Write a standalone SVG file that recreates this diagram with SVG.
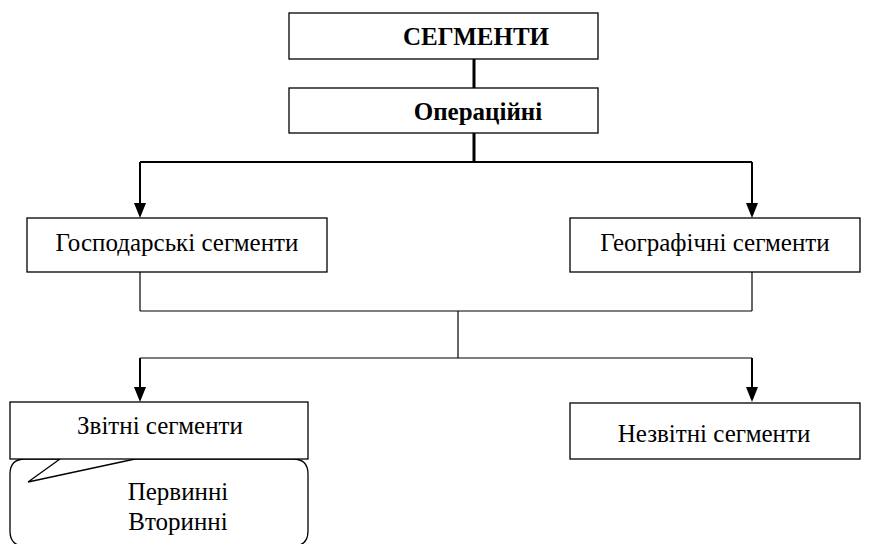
<svg xmlns="http://www.w3.org/2000/svg" width="875" height="544" viewBox="0 0 875 544">
  <style>
    .box { fill: #fff; stroke: #000; stroke-width: 1.3; }
    .txt { font-family: "Liberation Serif", "Times New Roman", serif; font-size: 25px; fill: #000; text-anchor: middle; }
    .bold { font-weight: bold; }
    .thick { stroke: #000; stroke-width: 3; fill: none; }
    .mid { stroke: #000; stroke-width: 2; fill: none; }
    .thin { stroke: #000; stroke-width: 1.2; fill: none; }
    .head { fill: #000; }
  </style>

  <!-- connectors -->
  <g id="connectors">
    <line class="thick" x1="474" y1="59" x2="474" y2="88"/>
    <line class="thick" x1="474" y1="133" x2="474" y2="162"/>
    <line class="mid" x1="140" y1="162" x2="752" y2="162"/>
    <path class="mid" d="M140,162 V204"/>
    <path class="head" d="M134,203 L146,203 L140,218 Z"/>
    <path class="mid" d="M752,162 V204"/>
    <path class="head" d="M746,203 L758,203 L752,218 Z"/>

    <line class="thin" x1="140" y1="272" x2="140" y2="311"/>
    <line class="thin" x1="752" y1="272" x2="752" y2="311"/>
    <line class="thin" x1="140" y1="311" x2="752" y2="311"/>
    <line class="thin" x1="458" y1="311" x2="458" y2="358"/>
    <line class="thin" x1="140" y1="358" x2="752" y2="358"/>
    <path class="mid" d="M140,358 V389"/>
    <path class="head" d="M134,387 L146,387 L140,402 Z"/>
    <path class="mid" d="M752,358 V389"/>
    <path class="head" d="M746,387 L758,387 L752,402 Z"/>
  </g>

  <g id="segments">
    <rect class="box" x="289" y="13" width="309" height="46"/>
    <text class="txt bold" x="476" y="45">СЕГМЕНТИ</text>
  </g>

  <g id="operational">
    <rect class="box" x="289" y="88" width="309" height="45"/>
    <text class="txt bold" x="478" y="120">Операційні</text>
  </g>

  <g id="business">
    <rect class="box" x="27" y="218" width="300" height="54"/>
    <text class="txt" x="177" y="251">Господарські сегменти</text>
  </g>

  <g id="geographic">
    <rect class="box" x="570" y="218" width="290" height="54"/>
    <text class="txt" x="715" y="251">Географічні сегменти</text>
  </g>

  <!-- callout listing the kinds of reportable segments -->
  <g id="reportable-note">
    <path class="box" d="M60,459 L28,482 L135,459 L293,459 Q308,459 308,474 L308,531 Q308,546 293,546 L25,546 Q10,546 10,531 L10,474 Q10,459 25,459 Z"/>
    <text class="txt" x="178" y="500">Первинні</text>
    <text class="txt" x="178" y="530">Вторинні</text>
  </g>

  <g id="reportable">
    <rect class="box" x="10" y="402" width="298" height="57"/>
    <text class="txt" x="160" y="434">Звітні сегменти</text>
  </g>

  <g id="nonreportable">
    <rect class="box" x="570" y="403" width="290" height="56"/>
    <text class="txt" x="714" y="442">Незвітні сегменти</text>
  </g>
</svg>
